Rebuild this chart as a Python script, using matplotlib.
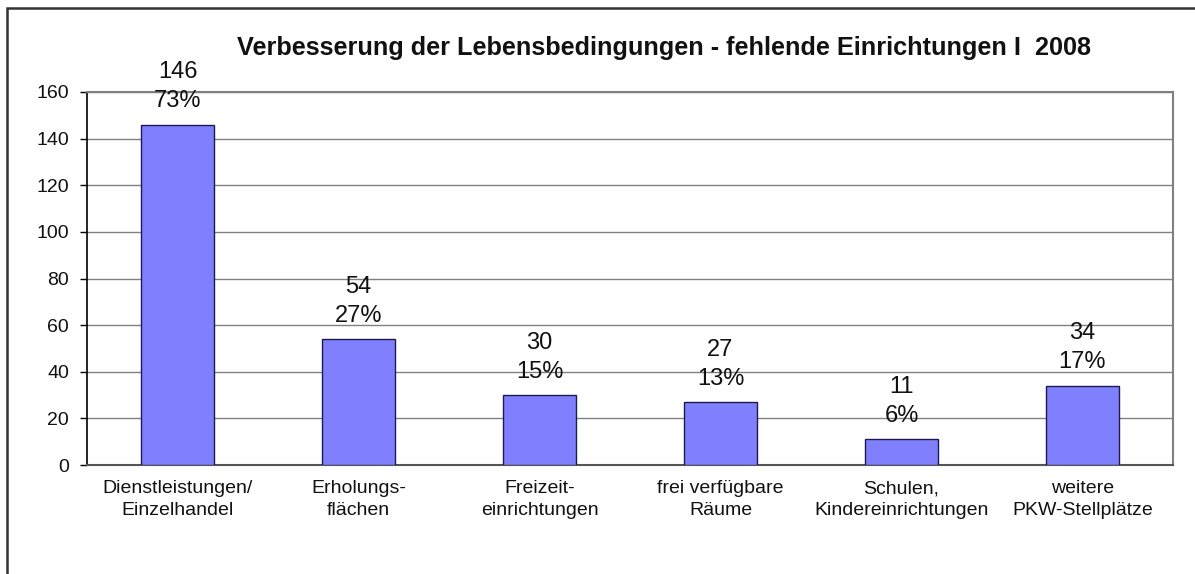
import numpy as np
import matplotlib
matplotlib.use("Agg")
import matplotlib.pyplot as plt
from matplotlib.patches import Rectangle

plt.rcParams['font.family'] = ['Liberation Sans', 'DejaVu Sans']

# data
categories = ["Dienstleistungen/\nEinzelhandel", "Erholungs-\nflächen",
              "Freizeit-\neinrichtungen", "frei verfügbare\nRäume",
              "Schulen,\nKindereinrichtungen", "weitere\nPKW-Stellplätze"]
counts = [146, 54, 30, 27, 11, 34]
percents = [73, 27, 15, 13, 6, 17]
yticks = [0, 20, 40, 60, 80, 100, 120, 140, 160]

W, H = 1195, 574
fig = plt.figure(figsize=(W / 100, H / 100), dpi=100)
ax = fig.add_axes([87 / W, 1 - 465 / H, (1173 - 87) / W, (465 - 92) / H])

x = np.arange(len(categories))
ax.bar(x, counts, width=0.4, color="#8080FF", edgecolor="#1a1a4d",
       linewidth=1.0, zorder=3)

for xi, c, p in zip(x, counts, percents):
    ax.annotate(f"{c}\n{p}%", (xi, c), xytext=(0, 9), textcoords="offset points",
                ha="center", va="bottom", fontsize=17, linespacing=1.4,
                color="#111111", zorder=4, annotation_clip=False)

ax.set_xlim(-0.5, len(categories) - 0.5)
ax.set_ylim(0, 160)
ax.set_yticks(yticks)
ax.set_yticklabels([str(t) for t in yticks], fontsize=14, color="#111111")
ax.yaxis.grid(True, color="#808080", linewidth=1.0, zorder=0)
ax.set_axisbelow(True)

ax.set_xticks(x)
ax.set_xticklabels(categories, fontsize=14, color="#111111", linespacing=1.4)
ax.tick_params(axis="x", length=0, pad=11)
ax.tick_params(axis="y", length=5, width=1, direction="out", pad=8)

for side in ["top", "right", "bottom"]:
    ax.spines[side].set_color("#808080")
    ax.spines[side].set_linewidth(1.5)
ax.spines["bottom"].set_color("#555555")
ax.spines["left"].set_color("black")
ax.spines["left"].set_linewidth(1.2)

fig.text(664 / W, 1 - 48 / H, "Verbesserung der Lebensbedingungen - fehlende Einrichtungen I  2008",
         ha="center", va="center", fontsize=18.2, fontweight="bold", color="#111111")

# outer frame (only left and top edges visible in the image)
fig.patches.append(Rectangle((7 / W, -0.05), 1.1, 1 - 8 / H + 0.05,
                             transform=fig.transFigure, fill=False,
                             edgecolor="#333333", linewidth=1.8))

fig.savefig("out.png", dpi=100)
